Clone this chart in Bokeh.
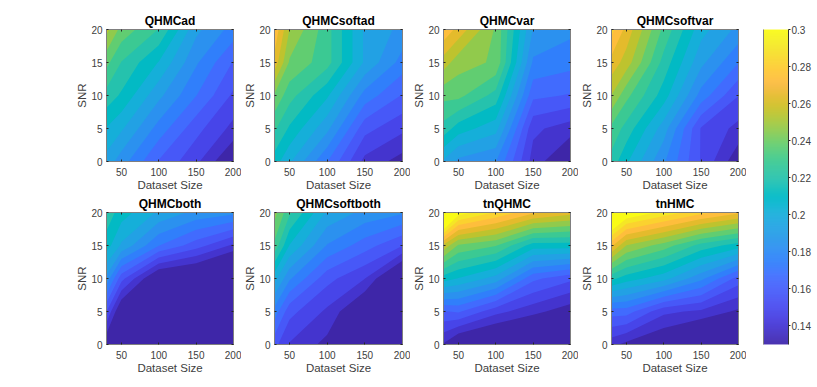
import numpy as np
from bokeh.plotting import figure
from bokeh.layouts import row, column
from bokeh.models import LinearAxis, FixedTicker, Range1d
from bokeh.embed import file_html
from bokeh.resources import INLINE

dataset_size = [30, 50, 100, 150, 200]
snr = [0, 5, 10, 15, 20]
level_values = [round(0.13 + 0.17 * i / 19, 5) for i in range(20)]

# each list: SNR rows 0,5,10,15,20; columns are dataset sizes 30,50,100,150,200
QHMCad = [[.198, .188, .165, .150, .128],
          [.210, .203, .180, .160, .145],
          [.225, .218, .195, .175, .155],
          [.240, .228, .210, .185, .165],
          [.258, .243, .228, .195, .180]]
QHMCsoftad = [[.215, .203, .175, .145, .135],
              [.230, .218, .195, .160, .150],
              [.245, .232, .212, .180, .165],
              [.270, .245, .232, .200, .180],
              [.280, .255, .232, .200, .190]]
QHMCvar = [[.200, .190, .184, .144, .127],
           [.225, .215, .205, .150, .143],
           [.240, .240, .225, .168, .165],
           [.260, .250, .245, .182, .178],
           [.280, .270, .245, .192, .186]]
QHMCsoftvar = [[.225, .212, .185, .156, .132],
               [.235, .225, .197, .156, .145],
               [.255, .240, .215, .180, .157],
               [.270, .260, .225, .195, .175],
               [.285, .270, .235, .205, .190]]
QHMCboth = [[.130, .118, .115, .115, .115],
            [.157, .127, .120, .120, .120],
            [.190, .160, .125, .120, .103],
            [.215, .200, .175, .161, .146],
            [.225, .215, .200, .190, .186]]
QHMCsoftboth = [[.160, .147, .136, .115, .105],
                [.180, .160, .146, .125, .112],
                [.205, .185, .160, .148, .118],
                [.235, .210, .183, .170, .157],
                [.250, .230, .200, .190, .185]]
tnQHMC = [[.138, .125, .118, .110, .105],
          [.165, .167, .151, .142, .133],
          [.215, .210, .198, .168, .159],
          [.262, .245, .238, .215, .215],
          [.340, .305, .290, .275, .268]]
tnHMC = [[.142, .136, .128, .115, .105],
         [.170, .170, .150, .146, .137],
         [.222, .215, .205, .186, .162],
         [.275, .255, .242, .225, .215],
         [.330, .310, .297, .285, .275]]
panel_titles = ["QHMCad", "QHMCsoftad", "QHMCvar", "QHMCsoftvar",
                "QHMCboth", "QHMCsoftboth", "tnQHMC", "tnHMC"]
panel_values = [QHMCad, QHMCsoftad, QHMCvar, QHMCsoftvar,
                QHMCboth, QHMCsoftboth, tnQHMC, tnHMC]
color_ticks = [0.14, 0.16, 0.18, 0.2, 0.22, 0.24, 0.26, 0.28, 0.3]

PARULA = np.array([
 [.2422,.1504,.6603],[.2504,.1650,.7076],[.2578,.1818,.7511],[.2647,.1978,.7952],
 [.2706,.2147,.8364],[.2751,.2342,.8710],[.2783,.2559,.8991],[.2803,.2782,.9221],
 [.2813,.3006,.9414],[.2810,.3228,.9579],[.2795,.3447,.9717],[.2760,.3667,.9829],
 [.2699,.3892,.9906],[.2602,.4123,.9952],[.2440,.4358,.9988],[.2206,.4603,.9973],
 [.1963,.4847,.9892],[.1834,.5074,.9798],[.1786,.5289,.9682],[.1764,.5499,.9520],
 [.1687,.5703,.9359],[.1540,.5902,.9218],[.1460,.6091,.9079],[.1380,.6276,.8973],
 [.1248,.6459,.8883],[.1113,.6635,.8763],[.0952,.6798,.8598],[.0689,.6948,.8394],
 [.0297,.7082,.8163],[.0036,.7203,.7917],[.0067,.7312,.7660],[.0433,.7411,.7394],
 [.0964,.7500,.7120],[.1408,.7584,.6842],[.1717,.7670,.6554],[.1938,.7758,.6251],
 [.2161,.7843,.5923],[.2470,.7918,.5567],[.2906,.7973,.5188],[.3406,.8008,.4789],
 [.3909,.8029,.4354],[.4456,.8024,.3909],[.5044,.7993,.3480],[.5616,.7942,.3045],
 [.6174,.7876,.2612],[.6720,.7793,.2227],[.7242,.7698,.1910],[.7738,.7598,.1646],
 [.8203,.7498,.1535],[.8634,.7406,.1596],[.9035,.7330,.1774],[.9393,.7288,.2100],
 [.9728,.7298,.2394],[.9956,.7434,.2371],[.9970,.7659,.2199],[.9952,.7861,.1999],
 [.9892,.8135,.1885],[.9786,.8386,.1766],[.9676,.8639,.1643],[.9610,.8890,.1537],
 [.9597,.9135,.1423],[.9628,.9373,.1265],[.9691,.9606,.1064],[.9769,.9839,.0805]])

VMIN, VMAX = 0.13, 0.30

def cmap(v):
    t = np.clip((v - VMIN) / (VMAX - VMIN), 0, 1) * (len(PARULA) - 1)
    rgb = [np.interp(t, np.arange(len(PARULA)), PARULA[:, k]) for k in range(3)]
    return "#%02x%02x%02x" % tuple(int(round(255 * c)) for c in rgb)

FONT = "Liberation Sans"
EDGE = "#7f7f7f"
TEXT = "#404040"

def style(ax, ticks):
    ax.ticker = FixedTicker(ticks=ticks)
    ax.axis_line_color = EDGE
    ax.axis_line_width = 1
    ax.major_tick_line_color = "#262626"
    ax.major_tick_line_width = 1
    ax.major_tick_in = 2
    ax.major_tick_out = 0
    ax.minor_tick_line_color = None
    ax.major_label_text_font = FONT
    ax.major_label_text_font_size = "10px"
    ax.major_label_text_color = TEXT
    ax.major_label_standoff = 4
    ax.axis_label_text_font = FONT
    ax.axis_label_text_font_size = "11.5px"
    ax.axis_label_text_font_style = "normal"
    ax.axis_label_text_color = TEXT
    ax.axis_label_standoff = 3

def ghost(ax, ticks):
    ax.major_label_overrides = {t: "" for t in ticks}
    ax.major_label_text_font_size = "1px"
    ax.major_label_standoff = 0
    ax.axis_label = None

def panel(title, z, left, frame_w, top, bottom):
    w = left + frame_w + 8
    h = top + 132 + bottom
    p = figure(width=w, height=h, output_backend="svg", toolbar_location=None,
               x_range=Range1d(30, 200), y_range=Range1d(0, 20),
               min_border_left=left, min_border_right=8,
               min_border_top=top, min_border_bottom=bottom,
               title=title, x_axis_label="Dataset Size", y_axis_label="SNR")
    p.grid.visible = False
    p.outline_line_color = None
    z = np.array(z)
    p.background_fill_color = cmap(VMIN)
    for i, lv in enumerate(level_values):
        if i == 0 or z.max() <= lv:
            continue
        p.contour(dataset_size, snr, z, levels=[lv, 0.40], fill_color=[cmap(lv)], line_color=None)
    style(p.xaxis[0], [50, 100, 150, 200])
    style(p.yaxis[0], [0, 5, 10, 15, 20])
    p.xaxis[0].major_label_standoff = 6
    p.xaxis[0].axis_label_standoff = 0
    p.yaxis[0].axis_label_standoff = 0
    r = LinearAxis(); style(r, [0, 5, 10, 15, 20]); ghost(r, [0, 5, 10, 15, 20])
    a = LinearAxis(); style(a, [50, 100, 150, 200]); ghost(a, [50, 100, 150, 200])
    p.add_layout(r, "right")
    p.add_layout(a, "above")
    p.title.align = "center"
    p.title.text_font = FONT
    p.title.text_font_size = "12px"
    p.title.text_font_style = "bold"
    p.title.text_color = "black"
    p.title.standoff = 3
    return p

lefts = [106, 33, 33, 33]
widths = [127, 128, 127, 127]
top_row = [panel(panel_titles[i], panel_values[i], lefts[i], widths[i], 29, 32) for i in range(4)]
bot_row = [panel(panel_titles[i + 4], panel_values[i + 4], lefts[i], widths[i], 19, 32) for i in range(4)]

cb = figure(width=17 + 25 + 29, height=376, output_backend="svg", toolbar_location=None,
            x_range=Range1d(0, 1), y_range=Range1d(VMIN, VMAX),
            min_border_left=17, min_border_right=29, min_border_top=29, min_border_bottom=32,
            y_axis_location="right")
cb.grid.visible = False
cb.xaxis.visible = False
cb.outline_line_color = None
grad = np.linspace(VMIN, VMAX, 316)
mids = (grad[:-1] + grad[1:]) / 2
cb.quad(left=0, right=1, bottom=grad[:-1], top=grad[1:],
        fill_color=[cmap(v) for v in mids], line_color=[cmap(v) for v in mids], line_width=0.5)
yax = cb.yaxis[0]
style(yax, color_ticks)
yax.axis_line_color = "#333333"
yax.major_tick_in = 0
yax.major_tick_out = 2
yax.major_label_standoff = 1
yax.major_label_overrides = {t: str(t) for t in color_ticks}
left_edge = LinearAxis(); style(left_edge, []); ghost(left_edge, [])
cb.add_layout(left_edge, "left")

layout = row(column(row(*top_row), row(*bot_row)), cb)
open("out.html", "w").write(file_html(layout, INLINE))
